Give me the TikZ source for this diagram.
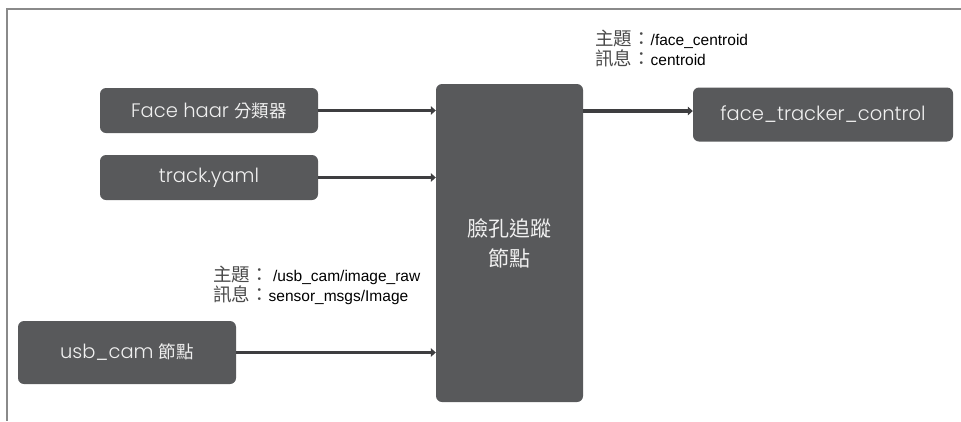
\documentclass[tikz,border=0pt]{standalone}
\usepackage{fontspec}
\setmainfont{Poppins}[UprightFont=* Light]
\newfontfamily\cjk{Noto Sans CJK TC}
\newfontfamily\arial{Liberation Sans}
\usetikzlibrary{arrows.meta}
\definecolor{boxgray}{HTML}{58595B}
\definecolor{arrgray}{HTML}{3E3E40}
\definecolor{framegray}{HTML}{8A8A8A}
\definecolor{txtlight}{HTML}{F0F0F0}
\definecolor{cjkgray}{HTML}{4A4A4A}
\newcommand{\cjkl}[1]{{\fontsize{18.5}{17}\selectfont\cjk\color{cjkgray}#1}}
\begin{document}
\begin{tikzpicture}[x=1pt,y=-1pt,
  box/.style={fill=boxgray,draw=none,rounded corners=6pt,text=txtlight,font=\fontsize{19.5}{22}\selectfont,inner sep=0pt},
  flow/.style={draw=arrgray,line width=3.8pt,-{Triangle[length=5pt,width=8.5pt]}},
  lbl/.style={font=\fontsize{15.5}{17}\selectfont\arial,text=black,align=left,anchor=north west,inner sep=0pt}]
\useasboundingbox (0,0) rectangle (961,421);
\draw[framegray,line width=1.2pt] (961,9) -- (7,9) -- (7,421);
\node[box,minimum width=218pt,minimum height=45pt] (haar) at (209,110.5) {Face haar {\fontsize{17.5}{20}\selectfont\cjk 分類器}};
\node[box,minimum width=218pt,minimum height=45pt] (yaml) at (209,177.5) {track.yaml};
\node[box,minimum width=218pt,minimum height=63pt] (usb) at (127,352.5) {usb\_cam {\fontsize{17.5}{20}\selectfont\cjk 節點}};
\node[box,minimum width=147pt,minimum height=318pt,align=center,font=\fontsize{21}{30}\selectfont\cjk] (track) at (509.5,243) {臉孔追蹤\\節點};
\node[box,minimum width=260pt,minimum height=54pt] (ctrl) at (823,114.5) {face\_tracker\_control};
\draw[flow] (haar.east) -- (track.west |- haar.east);
\draw[flow] (yaml.east) -- (track.west |- yaml.east);
\draw[flow] (usb.east) -- (track.west |- usb.east);
\coordinate (outstart) at (track.east |- 0,111);
\draw[flow] (outstart) -- (ctrl.west |- outstart);
\node[lbl] (l1) at (595,30) {\cjkl{主題：}/face\_centroid\\\cjkl{訊息：}centroid};
\node[lbl] (l2) at (213,266) {\cjkl{主題：} /usb\_cam/image\_raw\\\cjkl{訊息：}sensor\_msgs/Image};
\end{tikzpicture}
\end{document}
